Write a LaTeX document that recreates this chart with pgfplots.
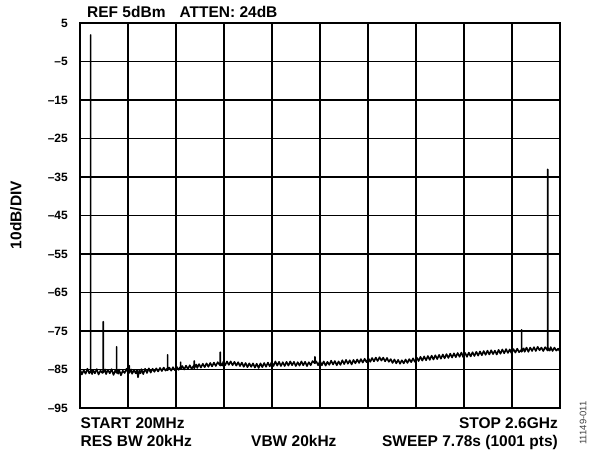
\documentclass[border=0pt]{standalone}
\usepackage{fontspec}
\setmainfont{Liberation Sans}
\usepackage{pgfplots}
\pgfplotsset{compat=1.18}

\begin{document}
\begin{tikzpicture}
\path[use as bounding box] (0,0) rectangle (590pt,-455pt);

\begin{axis}[%
at={(80pt,-408pt)},
anchor=south west,
scale only axis,
width=480pt,
height=385pt,
xmin=20, xmax=2600,
ymin=-95, ymax=5,
xtick={20,278,536,794,1052,1310,1568,1826,2084,2342,2600},
xticklabels={},
ytick={-95,-85,-75,-65,-55,-45,-35,-25,-15,-5,5},
yticklabels={–95,–85,–75,–65,–55,–45,–35,–25,–15,–5,5},
yticklabel style={font=\fontsize{12}{14}\selectfont\bfseries, anchor=east, inner sep=0pt, xshift=-12pt},
major tick length=0pt,
grid=major,
major grid style={black, line width=1.2pt},
axis line style={black, line width=1.8pt},
]
\addplot [
color=black,
line width=1.6pt,
line join=round,
mark=none,
]
table[row sep=crcr]{
20 -84.9\\ 30 -86.3\\ 40 -85.2\\ 50 -86.1\\ 60 -84.8\\ 70 -86.0\\ 77.5 -85.4\\ 77.5 1.9\\ 77.5 -85.0\\ 85 -86.2\\
90 -85.1\\ 100 -86.0\\ 110 -84.9\\ 120 -86.3\\ 130 -85.3\\ 140 -85.9\\ 145 -85.2\\ 145 -72.6\\ 145 -85.8\\ 155 -85.0\\
160 -86.2\\ 170 -85.1\\ 180 -86.0\\ 190 -84.9\\ 200 -86.4\\ 210 -85.2\\ 217 -85.9\\ 217 -79.1\\ 217 -85.0\\ 225 -86.1\\
230 -85.0\\ 240 -86.5\\ 250 -85.3\\ 260 -85.9\\ 270 -84.8\\ 280 -86.0\\ 285 -85.1\\ 285 -84.0\\ 285 -85.9\\ 295 -85.0\\
300 -86.1\\ 310 -85.2\\ 320 -86.0\\ 326 -85.1\\ 332 -87.0\\ 338 -85.3\\ 345 -86.0\\ 350 -84.9\\ 360 -86.2\\ 370 -84.8\\
380 -85.9\\ 390 -84.7\\ 400 -85.8\\ 410 -84.8\\ 420 -85.6\\ 430 -84.7\\ 440 -85.5\\ 450 -84.6\\ 460 -85.4\\ 470 -84.5\\
480 -85.3\\ 491 -84.6\\ 491 -81.2\\ 491 -85.2\\ 500 -84.5\\ 510 -85.3\\ 520 -84.4\\ 530 -85.2\\ 540 -84.3\\ 550 -85.1\\
561 -84.2\\ 561 -83.1\\ 561 -84.9\\ 570 -84.1\\ 580 -85.0\\ 590 -84.0\\ 600 -84.9\\ 610 -83.9\\ 620 -84.8\\ 634 -83.8\\
634 -82.8\\ 634 -84.7\\ 645 -83.7\\ 650 -84.6\\ 660 -83.6\\ 670 -84.5\\ 680 -83.5\\ 690 -84.4\\ 700 -83.4\\ 710 -84.3\\
720 -83.3\\ 730 -84.2\\ 740 -83.2\\ 750 -84.1\\ 760 -83.1\\ 774 -84.0\\ 774 -80.5\\ 774 -83.2\\ 785 -84.0\\ 790 -83.0\\
%
800 -83.9\\ 810 -82.9\\ 820 -83.8\\ 830 -82.9\\ 840 -83.9\\ 850 -83.0\\ 860 -84.0\\ 870 -83.1\\ 880 -84.1\\ 890 -83.2\\
900 -84.3\\ 910 -83.3\\ 920 -84.4\\ 930 -83.4\\ 940 -84.3\\ 950 -83.4\\ 960 -84.5\\ 970 -83.5\\ 980 -84.6\\ 990 -83.4\\
1000 -84.4\\ 1010 -83.3\\ 1020 -84.3\\ 1030 -83.2\\ 1040 -84.2\\ 1050 -83.1\\ 1060 -84.1\\ 1070 -82.9\\ 1080 -84.0\\ 1090 -83.0\\
1100 -84.1\\ 1110 -83.1\\ 1120 -84.1\\ 1130 -83.0\\ 1140 -84.0\\ 1150 -82.9\\ 1160 -83.9\\ 1170 -83.0\\ 1180 -84.1\\ 1190 -83.1\\
1200 -84.0\\ 1210 -82.9\\ 1220 -83.9\\ 1230 -83.0\\ 1240 -84.1\\ 1250 -83.1\\ 1260 -83.9\\ 1270 -82.8\\ 1283 -83.4\\ 1283 -81.7\\
1283 -83.3\\ 1290 -82.9\\ 1300 -83.9\\ 1310 -82.8\\ 1320 -83.9\\ 1330 -82.9\\ 1340 -84.0\\ 1350 -83.0\\ 1360 -83.8\\ 1370 -82.7\\
1380 -83.7\\ 1390 -82.8\\ 1400 -83.9\\ 1410 -82.9\\ 1420 -83.8\\ 1430 -82.6\\ 1440 -83.6\\ 1450 -82.5\\ 1460 -83.5\\ 1470 -82.6\\
1480 -83.7\\ 1490 -82.5\\ 1500 -83.4\\ 1510 -82.4\\ 1520 -83.3\\ 1530 -82.3\\ 1540 -83.2\\ 1550 -82.2\\ 1560 -83.1\\ 1570 -82.1\\
1580 -83.0\\ 1590 -82.0\\ 1600 -82.9\\ 1610 -81.9\\ 1620 -82.8\\ 1630 -81.8\\ 1640 -82.7\\ 1650 -81.9\\ 1660 -82.9\\ 1670 -82.0\\
1680 -83.0\\ 1690 -82.3\\ 1700 -83.3\\ 1710 -82.4\\ 1720 -83.4\\ 1730 -82.5\\ 1740 -83.5\\ 1750 -82.6\\ 1760 -83.4\\ 1770 -82.4\\
%
1780 -83.3\\ 1790 -82.3\\ 1800 -83.1\\ 1810 -82.1\\ 1820 -83.0\\ 1830 -81.9\\ 1840 -82.8\\ 1850 -81.7\\ 1860 -82.7\\ 1870 -81.6\\
1880 -82.6\\ 1890 -81.5\\ 1900 -82.5\\ 1910 -81.4\\ 1920 -82.4\\ 1930 -81.3\\ 1940 -82.3\\ 1950 -81.2\\ 1960 -82.2\\ 1970 -81.1\\
1980 -82.1\\ 1990 -81.0\\ 2000 -82.0\\ 2010 -80.9\\ 2020 -81.9\\ 2030 -80.8\\ 2040 -81.8\\ 2050 -80.7\\ 2060 -81.7\\ 2070 -80.6\\
2080 -81.8\\ 2090 -80.7\\ 2100 -81.7\\ 2110 -80.6\\ 2120 -81.6\\ 2130 -80.5\\ 2140 -81.5\\ 2150 -80.4\\ 2160 -81.4\\ 2170 -80.3\\
2180 -81.3\\ 2190 -80.2\\ 2200 -81.2\\ 2210 -80.1\\ 2220 -81.1\\ 2230 -80.0\\ 2240 -81.0\\ 2250 -80.1\\ 2260 -81.1\\ 2270 -79.9\\
2280 -80.9\\ 2290 -79.8\\ 2300 -80.8\\ 2310 -79.7\\ 2320 -80.7\\ 2330 -79.8\\ 2340 -80.8\\ 2350 -79.7\\ 2360 -80.6\\ 2370 -79.6\\
2380 -80.5\\ 2394 -79.8\\ 2394 -74.7\\ 2394 -80.4\\ 2405 -79.5\\ 2410 -80.4\\ 2420 -79.3\\ 2430 -80.4\\ 2440 -79.3\\ 2450 -80.2\\
2460 -79.2\\ 2470 -80.2\\ 2480 -79.1\\ 2490 -80.0\\ 2500 -79.3\\ 2510 -80.2\\ 2520 -79.2\\ 2534 -80.1\\ 2534 -33.0\\ 2534 -79.3\\
2545 -80.1\\ 2550 -79.2\\ 2560 -80.2\\ 2570 -79.3\\ 2580 -80.1\\ 2590 -79.6\\ 2600 -80.3\\
};
\end{axis}

\node[anchor=base west, inner sep=0pt, font=\fontsize{15.5}{18}\selectfont\bfseries] at (87pt,-17pt) {REF 5dBm\hspace{14pt}ATTEN: 24dB};
\node[anchor=center, rotate=90, inner sep=0pt, font=\fontsize{15.5}{18}\selectfont\bfseries] at (16pt,-215pt) {10dB/DIV};
\node[anchor=base west, inner sep=0pt, font=\fontsize{15.5}{18}\selectfont\bfseries] at (80.5pt,-428pt) {START 20MHz};
\node[anchor=base east, inner sep=0pt, font=\fontsize{15.5}{18}\selectfont\bfseries] at (558pt,-428pt) {STOP 2.6GHz};
\node[anchor=base west, inner sep=0pt, font=\fontsize{15.5}{18}\selectfont\bfseries] at (80.5pt,-446pt) {RES BW 20kHz};
\node[anchor=base west, inner sep=0pt, font=\fontsize{15.5}{18}\selectfont\bfseries] at (251pt,-446pt) {VBW 20kHz};
\node[anchor=base east, inner sep=0pt, font=\fontsize{15.5}{18}\selectfont\bfseries] at (558pt,-446pt) {SWEEP 7.78s (1001 pts)};
\node[anchor=center, rotate=90, inner sep=0pt, text=black!75, font=\fontsize{9.5}{11}\selectfont] at (583pt,-423pt) {11149-011};
\end{tikzpicture}
\end{document}
